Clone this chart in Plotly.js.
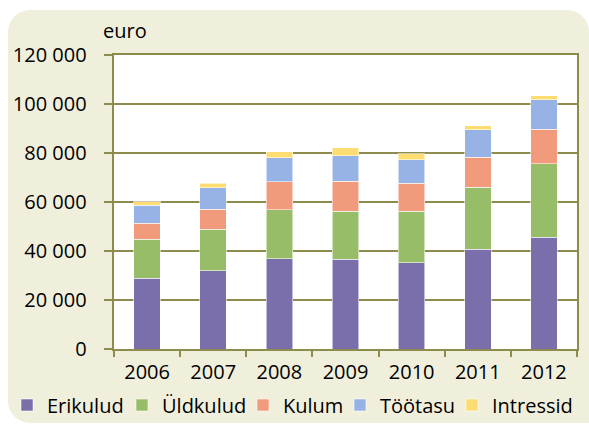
<!DOCTYPE html>
<html>
<head>
<meta charset="utf-8">
<script src="https://cdn.plot.ly/plotly-3.0.1.min.js"></script>
<style>
  html, body { margin: 0; padding: 0; background: #ffffff; }
  #wrap { position: relative; width: 589px; height: 424px; overflow: hidden; background: #ffffff; }
  #panel { position: absolute; left: 8px; top: 10px; width: 581px; height: 413px; background: #f0efdc; border-radius: 22px 22px 0 22px; }
  #chart { position: absolute; left: 0; top: 0; width: 589px; height: 424px; }
</style>
</head>
<body>
<div id="wrap">
  <div id="panel"></div>
  <div id="chart"></div>
</div>
<script>
const years = ['2006', '2007', '2008', '2009', '2010', '2011', '2012'];
const erikulud = [28800, 31900, 36800, 36700, 35200, 40800, 45700];
const yldkulud = [16100, 17000, 20100, 19500, 21000, 25200, 29900];
const kulum    = [6500, 8200, 11400, 12200, 11400, 12200, 14000];
const tootasu  = [7300, 8800, 9800, 10500, 9700, 11300, 12100];
const intressid = [1500, 1800, 2400, 3200, 2400, 1600, 1600];
const seriesNames = ['Erikulud', 'Üldkulud', 'Kulum', 'Töötasu', 'Intressid'];
const yTitle = 'euro';

const seriesData = [erikulud, yldkulud, kulum, tootasu, intressid];
const colors = ['#7a6fab', '#98bd68', '#f29a7c', '#97b3e6', '#fddc72'];
const legendIds = ['legend', 'legend2', 'legend3', 'legend4', 'legend5'];

const traces = seriesData.map((vals, i) => ({
  type: 'bar',
  name: seriesNames[i],
  x: years,
  y: vals,
  legend: legendIds[i],
  marker: { color: colors[i], line: { color: 'rgba(255,255,255,0.55)', width: 1 } },
  hoverinfo: 'x+y+name'
}));

const fontFam = '"Open Sans", "DejaVu Sans", sans-serif';
const fs = 20;
const olive = '#8e8c4c';

// plot area geometry (pixels)
const L = 114, R = 12, T = 55, B = 75;
const W = 589 - L - R;
const H = 424 - T - B;
const px2x = p => (p - L) / W;
const px2y = p => (424 - B - p) / H;

// legend text start positions in pixels
const legendTextStart = [47, 162, 283, 380, 492];

const layout = {
  width: 589,
  height: 424,
  barmode: 'stack',
  bargap: 0.6,
  separators: '. ',
  paper_bgcolor: 'rgba(0,0,0,0)',
  plot_bgcolor: '#ffffff',
  margin: { l: L, r: R, t: T, b: B, pad: 0, autoexpand: false },
  font: { family: fontFam, size: fs, color: '#000000' },
  xaxis: {
    type: 'category',
    showline: true, linecolor: olive, linewidth: 2, mirror: true,
    ticks: 'outside', tickson: 'boundaries', ticklen: 6, tickcolor: olive, tickwidth: 2,
    ticklabelstandoff: 4,
    tickfont: { family: fontFam, size: fs, color: '#000' },
    showgrid: false
  },
  yaxis: {
    range: [0, 120000],
    dtick: 20000,
    tickformat: ',d',
    ticksuffix: '\u2002\u2009',
    showline: true, linecolor: olive, linewidth: 2, mirror: true,
    ticks: 'outside', ticklen: 8, tickcolor: olive, tickwidth: 2,
    showgrid: true, gridcolor: olive, gridwidth: 2,
    zeroline: false,
    tickfont: { family: fontFam, size: fs, color: '#000' }
  },
  showlegend: true,
  annotations: [{
    text: yTitle,
    xref: 'paper', yref: 'paper',
    x: px2x(101), y: px2y(30), xanchor: 'left', yanchor: 'middle',
    showarrow: false,
    font: { family: fontFam, size: fs, color: '#000' }
  }]
};

legendIds.forEach((id, i) => {
  layout[id] = {
    orientation: 'h',
    x: px2x(legendTextStart[i] - 40), xanchor: 'left',
    y: px2y(405), yanchor: 'middle',
    bgcolor: 'rgba(0,0,0,0)',
    borderwidth: 0,
    font: { family: fontFam, size: fs, color: '#000' },
    itemwidth: 30
  };
});

Plotly.newPlot('chart', traces, layout, { displayModeBar: false, staticPlot: true });
</script>
</body>
</html>
